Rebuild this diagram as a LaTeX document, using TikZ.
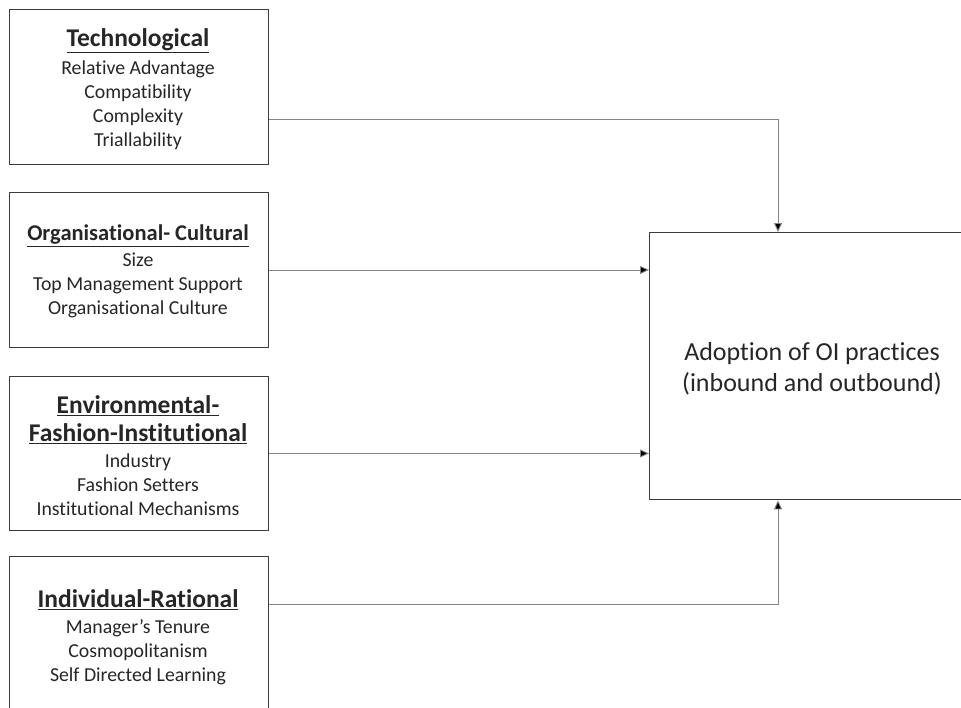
\documentclass[tikz,border=0pt]{standalone}
\usepackage{fontspec}
\setmainfont{Carlito}[Ligatures=NoCommon]
\usetikzlibrary{arrows.meta}
\definecolor{boxline}{HTML}{3C3C3C}
\definecolor{connline}{HTML}{858585}
\definecolor{txt}{HTML}{262626}
\begin{document}
\begin{tikzpicture}[x=1pt,y=-1pt,
  factorbox/.style={draw=boxline, line width=1.4pt, anchor=north west, inner sep=0pt,
    minimum width=259.5pt, minimum height=154.5pt},
  headtxt/.style={font=\fontsize{25.5}{27}\selectfont\bfseries, text=txt, inner sep=0pt, align=center},
  itemtxt/.style={font=\fontsize{19.8}{24}\selectfont, text=txt, inner sep=0pt, align=center},
  conn/.style={draw=connline, line width=0.9pt, -{Triangle[length=9pt,width=8pt,fill=black]}}]
\useasboundingbox (0,0) rectangle (961,707);
\clip (0,0) rectangle (961,707);

% factor boxes
\node[factorbox] (tech) at (8.5,9) {};
\node[factorbox] (org)  at (8.5,192) {};
\node[factorbox] (env)  at (8.5,375.5) {};
\node[factorbox] (ind)  at (8.5,556) {};

% outcome box
\node[draw=boxline, line width=1.4pt, anchor=north west, inner sep=0pt,
      minimum width=400pt, minimum height=267pt] (oi) at (649,232) {};

% box texts
\node[headtxt] (techh) at (138,41) {\underline{Technological}};
\node[itemtxt, anchor=north] (techi) at (138,60.5)
  {Relative Advantage\\Compatibility\\Complexity\\Triallability};

\node[headtxt, font=\fontsize{22.5}{27}\selectfont\bfseries] (orgh) at (138,235.5) {\underline{Organisational- Cultural}};
\node[itemtxt, anchor=north] (orgi) at (138,253)
  {Size\\Top Management Support\\Organisational Culture};

\node[headtxt] (envh) at (138,420) {\underline{Environmental-}\\[1pt]\underline{Fashion-Institutional}};
\node[itemtxt, anchor=north] (envi) at (138,454)
  {Industry\\Fashion Setters\\Institutional Mechanisms};

\node[headtxt] (indh) at (138,600) {\underline{Individual-Rational}};
\node[itemtxt, anchor=north] (indi) at (138,619)
  {Manager’s Tenure\\Cosmopolitanism\\Self Directed Learning};

\node[font=\fontsize{26}{31}\selectfont, text=txt, inner sep=0pt, align=center] (oit) at (812,369)
  {Adoption of OI practices\\(inbound and outbound)};

% connectors
\draw[conn] (tech.east |- 0,119) -| (oi.north -| 778,0);
\draw[conn] (org.east) -- (oi.west |- org.east);
\draw[conn] (env.east) -- (oi.west |- env.east);
\draw[conn] (ind.east |- 0,604) -| (oi.south -| 778,0);
\end{tikzpicture}
\end{document}
